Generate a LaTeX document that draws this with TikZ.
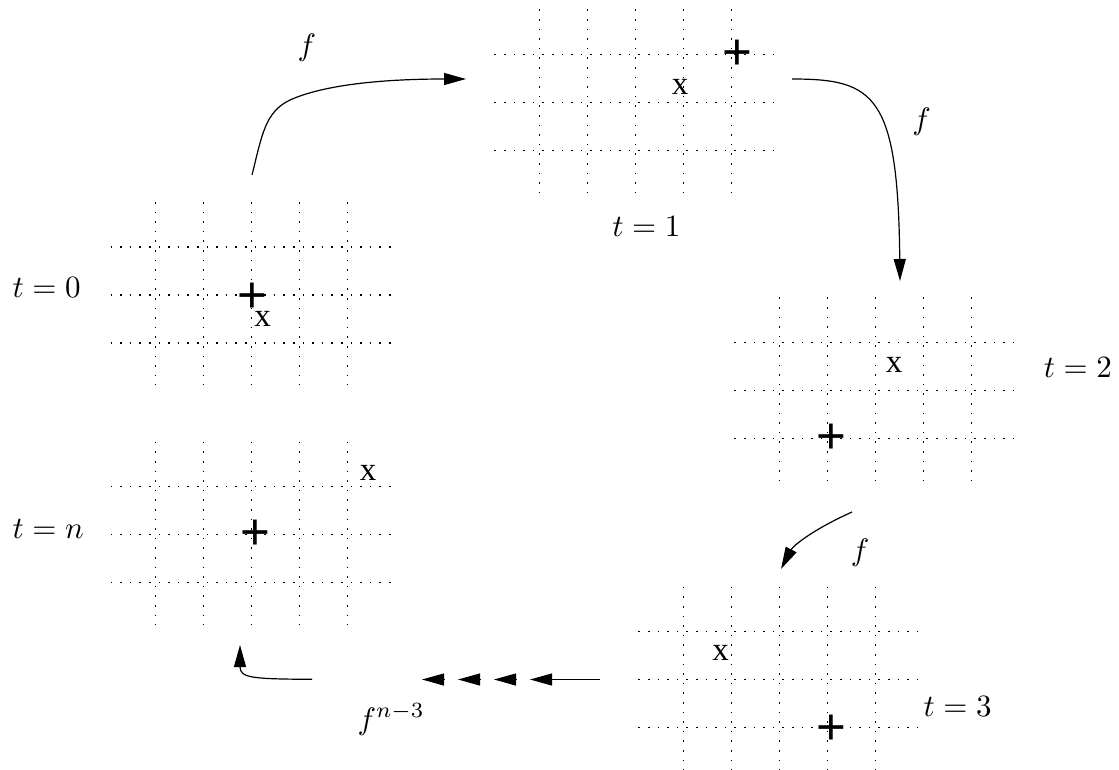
\documentclass[tikz,border=0pt]{standalone}
\usepackage{fontspec}
\newfontfamily\markfont{Liberation Sans}
\newfontfamily\xfont{Liberation Serif}
\usetikzlibrary{arrows.meta}
\tikzset{
  gridline/.style={line width=1.1pt, dash pattern=on 1.6pt off 8pt},
  conn/.style={line width=1.2pt, -{Triangle[length=22pt,width=12pt]}},
  lbl/.style={inner sep=0pt, scale=3.1},
  xmark/.style={inner sep=0pt, font=\xfont\fontsize{33}{40}\selectfont},
  pmark/.style={inner sep=0pt, font=\markfont\fontsize{51}{60}\selectfont},
  pics/lattice/.style={code={
    \foreach \k in {0,...,4} \draw[gridline] (48*\k,-45) -- (48*\k,138);
    \foreach \j in {0,1,2} \draw[gridline] (-45,48*\j) -- (236,48*\j);
  }}
}
\begin{document}
\begin{tikzpicture}[x=1pt,y=-1pt]
\useasboundingbox (0,0) rectangle (1119,769);
% grids
\pic at (155.5,247) {lattice};
\pic at (539.3,54.3) {lattice};
\pic at (779.3,342.3) {lattice};
\pic at (683.3,631.7) {lattice};
\pic at (155.5,486.7) {lattice};
% plus marks
\node[pmark] (p0) at (252.5,297.5) {+};
\node[pmark] (p1) at (737.5,55) {+};
\node[pmark] (p2) at (831.7,438.7) {+};
\node[pmark] (p3) at (831.5,729.5) {+};
\node[pmark] (pn) at (255.8,534.5) {+};
% x marks
\node[xmark] (x0) at (262.5,319) {x};
\node[xmark] (x1) at (680,86.7) {x};
\node[xmark] (x2) at (894,364.5) {x};
\node[xmark] (x3) at (720.5,653) {x};
\node[xmark] (xn) at (368,473.3) {x};
% time labels
\node[lbl,anchor=base west] (t0) at (12,297) {$t=0$};
\node[lbl,anchor=base west] (t1) at (611.7,236) {$t=1$};
\node[lbl,anchor=base west] (t2) at (1043.3,377.7) {$t=2$};
\node[lbl,anchor=base west] (t3) at (923,716.5) {$t=3$};
\node[lbl,anchor=base west] (tn) at (12,538) {$t=n$};
% map labels
\node[lbl,anchor=base] (f1) at (307,55.7) {$f$};
\node[lbl,anchor=base] (f2) at (921.7,129) {$f$};
\node[lbl,anchor=base] (f3) at (860,560.7) {$f$};
\node[lbl,anchor=base west] (fn) at (357,729) {$f^{n-3}$};
% connector end points
\coordinate (a1s) at (252,175);   \coordinate (a1e) at (466,79);
\coordinate (a2s) at (792,79);    \coordinate (a2e) at (900,281);
\coordinate (a3s) at (852,512);   \coordinate (a3e) at (781,569);
\coordinate (a4s) at (600,679.5); \coordinate (a4e) at (530,679.5);
\coordinate (b1s) at (516,679.5); \coordinate (b1e) at (494,679.5);
\coordinate (b2s) at (480,679.5); \coordinate (b2e) at (458,679.5);
\coordinate (b3s) at (444,679.5); \coordinate (b3e) at (422,679.5);
\coordinate (a5s) at (312,679.3); \coordinate (a5e) at (240,645);
% connectors
\draw[conn] (a1s) .. controls (262,135) and (265,112) .. (290,100)
                  .. controls (330,82) and (400,79) .. (a1e);
\draw[conn] (a2s) .. controls (875,79) and (898,95) .. (a2e);
\draw[conn] (a3s) .. controls (812,530) and (793,546) .. (a3e);
\draw[conn] (a4s) -- (a4e);
\draw[conn] (b1s) -- (b1e);
\draw[conn] (b2s) -- (b2e);
\draw[conn] (b3s) -- (b3e);
\draw[conn] (a5s) .. controls (252,679) and (240,678) .. (a5e);
\end{tikzpicture}
\end{document}
